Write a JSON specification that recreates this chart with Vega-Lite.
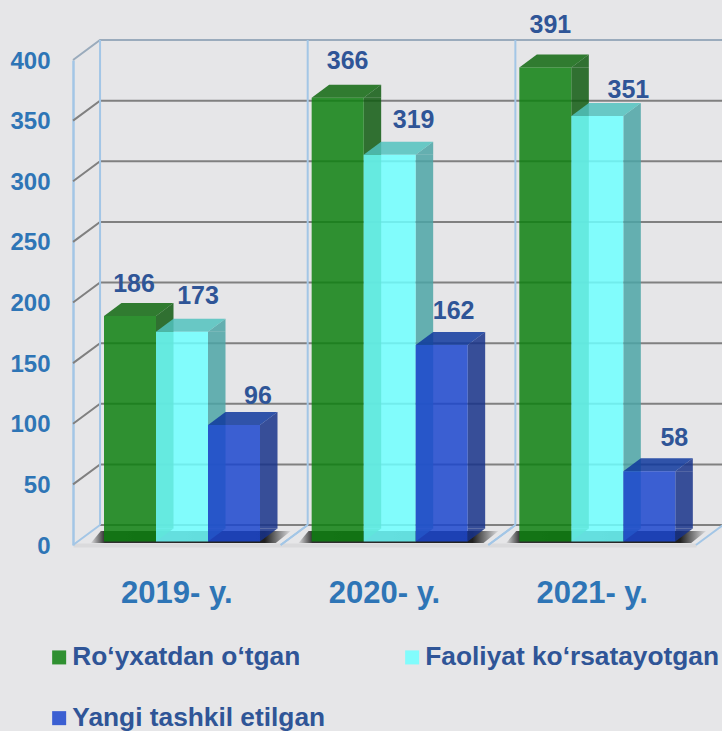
{
"$schema":"https://vega.github.io/schema/vega-lite/v6.json",
"width":623,"height":485,
"autosize":"none",
"padding":{"left":73,"top":60,"right":26,"bottom":186},
"background":"#e6e6e8",
"config":{"view":{"stroke":null},"font":"Liberation Sans"},
"datasets":{
"rows":[
{"year":"2019- y.","series":"Ro‘yxatdan o‘tgan","value":186},
{"year":"2019- y.","series":"Faoliyat ko‘rsatayotgan","value":173},
{"year":"2019- y.","series":"Yangi tashkil etilgan","value":96},
{"year":"2020- y.","series":"Ro‘yxatdan o‘tgan","value":366},
{"year":"2020- y.","series":"Faoliyat ko‘rsatayotgan","value":319},
{"year":"2020- y.","series":"Yangi tashkil etilgan","value":162},
{"year":"2021- y.","series":"Ro‘yxatdan o‘tgan","value":391},
{"year":"2021- y.","series":"Faoliyat ko‘rsatayotgan","value":351},
{"year":"2021- y.","series":"Yangi tashkil etilgan","value":58}
],
"years":[{"year":"2019- y."},{"year":"2020- y."},{"year":"2021- y."}],
"ticks":[{"tick":0},{"tick":50},{"tick":100},{"tick":150},{"tick":200},{"tick":250},{"tick":300},{"tick":350},{"tick":400}]
},
"resolve":{"scale":{"color":"independent","xOffset":"independent"}},
"layer":[
{"data":{"name":"ticks"},
 "transform":[{"filter":"datum.tick==0"}],
 "mark":{"type":"point","shape":"M-76.8,-20L546,-20","size":4,"filled":false,"stroke":"#808080","strokeWidth":2,"opacity":1},
 "encoding":{"x":{"datum":"2019- y."},
   "y":{"field":"tick","type":"quantitative","scale":{"domain":[0,400],"nice":false},
   "axis":{"title":null,"values":[0,50,100,150,200,250,300,350,400],"grid":false,"ticks":false,"domainColor":"#a3c6e6","domainWidth":2.5,"labelColor":"#2e75b6","labelFont":"Liberation Sans","labelFontWeight":"bold","labelFontSize":24,"labelPadding":23,"labelOffset":1}}}},
{"data":{"name":"ticks"},
 "transform":[{"filter":"datum.tick>0 && datum.tick<400"}],
 "mark":{"type":"point","shape":"M-103.8,0L-76.8,-20L546,-20","size":4,"filled":false,"stroke":"#808080","strokeWidth":2,"opacity":1},
 "encoding":{"x":{"datum":"2019- y."},"y":{"field":"tick","type":"quantitative"}}},
{"data":{"name":"ticks"},
 "transform":[{"filter":"datum.tick==400"}],
 "mark":{"type":"point","shape":"M-103.8,0L-76.8,-20L546,-20","size":4,"filled":false,"stroke":"#9aabbc","strokeWidth":2,"opacity":1},
 "encoding":{"x":{"datum":"2019- y."},"y":{"field":"tick","type":"quantitative"}}},
{"data":{"name":"years"},
 "mark":{"type":"rule","stroke":"#a3c6e6","strokeWidth":2,"xOffset":-76.8,"yOffset":-20,"y2Offset":-20},
 "encoding":{"x":{"field":"year","type":"nominal","scale":{"type":"band","paddingInner":0,"paddingOuter":0},
   "axis":{"title":null,"ticks":false,"labelAngle":0,"labelAlign":"center","domainColor":"#dadadc","domainWidth":4,"labelColor":"#2e75b6","labelFont":"Liberation Sans","labelFontWeight":"bold","labelFontSize":31,"labelPadding":48}},
   "y":{"datum":0},"y2":{"datum":400}}},
{"data":{"name":"years"},
 "mark":{"type":"point","shape":"M-103.8,0L-76.8,-20M103.8,0L130.8,-20","size":4,"filled":false,"stroke":"#a3c6e6","strokeWidth":2,"opacity":1},
 "encoding":{"x":{"field":"year","type":"nominal"},"y":{"datum":0}}},
{"data":{"name":"years"},
 "mark":{"type":"point","shape":"M-86,-2L-76,-14L114,-14L99,-2Z","size":4,"filled":true,"opacity":1,
   "fill":{"gradient":"linear","x1":0,"x2":1,"y1":0,"y2":0,"stops":[{"offset":0,"color":"#dcdcde"},{"offset":0.07,"color":"#303030"},{"offset":0.87,"color":"#202020"},{"offset":1,"color":"#dcdcde"}]}},
 "encoding":{"x":{"field":"year","type":"nominal"},"y":{"datum":0}}},
{"data":{"name":"rows"},
 "mark":{"type":"bar","yOffset":-3.5,"y2Offset":-16.5,"opacity":0.85},
 "encoding":{"x":{"field":"year","type":"nominal"},
  "xOffset":{"field":"series","type":"nominal","scale":{"type":"band","domain":["Ro‘yxatdan o‘tgan","Faoliyat ko‘rsatayotgan","Yangi tashkil etilgan"],"range":[83,204.5],"paddingInner":0.6635,"paddingOuter":0}},
  "y":{"field":"value","type":"quantitative"},"y2":{"datum":0},
  "color":{"field":"series","type":"nominal","legend":null,"scale":{"domain":["Ro‘yxatdan o‘tgan","Faoliyat ko‘rsatayotgan","Yangi tashkil etilgan"],"range":["#0f5b10","#4ca4a6","#17328a"]}}}},
{"data":{"name":"rows"},
 "mark":{"type":"point","shape":"M26,0L43.5,-13L43.5,0Z","size":4,"filled":true,"opacity":0.85,"yOffset":-3.5},
 "encoding":{"x":{"field":"year","type":"nominal"},"xOffset":{"field":"series","type":"nominal","scale":{"type":"band","domain":["Ro‘yxatdan o‘tgan","Faoliyat ko‘rsatayotgan","Yangi tashkil etilgan"],"range":[31,187],"paddingInner":0,"paddingOuter":0}},
  "y":{"field":"value","type":"quantitative"},
  "color":{"field":"series","type":"nominal","legend":null,"scale":{"domain":["Ro‘yxatdan o‘tgan","Faoliyat ko‘rsatayotgan","Yangi tashkil etilgan"],"range":["#0f5b10","#4ca4a6","#17328a"]}}}},
{"data":{"name":"rows"},
 "mark":{"type":"point","shape":"M26,0L43.5,-13L26,-13Z","size":4,"filled":true,"opacity":0.85,"yOffset":-3.5},
 "encoding":{"x":{"field":"year","type":"nominal"},"xOffset":{"field":"series","type":"nominal","scale":{"type":"band","domain":["Ro‘yxatdan o‘tgan","Faoliyat ko‘rsatayotgan","Yangi tashkil etilgan"],"range":[31,187],"paddingInner":0,"paddingOuter":0}},
  "y":{"datum":0},
  "color":{"field":"series","type":"nominal","legend":null,"scale":{"domain":["Ro‘yxatdan o‘tgan","Faoliyat ko‘rsatayotgan","Yangi tashkil etilgan"],"range":["#0f5b10","#4ca4a6","#17328a"]}}}},
{"data":{"name":"rows"},
 "mark":{"type":"point","shape":"M-26,0L-8.5,-13L43.5,-13L26,0Z","size":4,"filled":true,"opacity":0.85,"yOffset":-3.5},
 "encoding":{"x":{"field":"year","type":"nominal"},"xOffset":{"field":"series","type":"nominal","scale":{"type":"band","domain":["Ro‘yxatdan o‘tgan","Faoliyat ko‘rsatayotgan","Yangi tashkil etilgan"],"range":[31,187],"paddingInner":0,"paddingOuter":0}},
  "y":{"field":"value","type":"quantitative"},
  "color":{"field":"series","type":"nominal","legend":null,"scale":{"domain":["Ro‘yxatdan o‘tgan","Faoliyat ko‘rsatayotgan","Yangi tashkil etilgan"],"range":["#0f670f","#51c2be","#0f389d"]}}}},
{"data":{"name":"rows"},
 "mark":{"type":"bar","yOffset":-3.5,"y2Offset":-3.5,"opacity":0.85},
 "encoding":{"x":{"field":"year","type":"nominal"},"xOffset":{"field":"series","type":"nominal","scale":{"type":"band","domain":["Ro‘yxatdan o‘tgan","Faoliyat ko‘rsatayotgan","Yangi tashkil etilgan"],"range":[31,187],"paddingInner":0,"paddingOuter":0}},
  "y":{"field":"value","type":"quantitative"},"y2":{"datum":0},
  "color":{"field":"series","type":"nominal","scale":{"domain":["Ro‘yxatdan o‘tgan","Faoliyat ko‘rsatayotgan","Yangi tashkil etilgan"],"range":["#0e8010","#6effff","#1c47ce"]},
   "legend":{"title":null,"orient":"none","legendX":-27,"legendY":584,"direction":"horizontal","columns":2,"symbolType":"square","symbolSize":196,"symbolStrokeWidth":0,"labelFont":"Liberation Sans","labelFontWeight":"bold","labelFontSize":26.3,"labelColor":"#2f5597","labelOffset":0,"columnPadding":73,"rowPadding":34,"padding":0,"labelLimit":400}}}},
{"data":{"name":"rows"},
 "encoding":{"x":{"field":"year","type":"nominal"},"xOffset":{"field":"series","type":"nominal","scale":{"type":"band","domain":["Ro‘yxatdan o‘tgan","Faoliyat ko‘rsatayotgan","Yangi tashkil etilgan"],"range":[31,187],"paddingInner":0,"paddingOuter":0}},
  "y":{"field":"value","type":"quantitative"},"text":{"field":"value","type":"quantitative"}},
 "layer":[
 {"transform":[{"filter":"datum.value==186"}],"mark":{"type":"text","dx":4,"dy":-35.5,"font":"Liberation Sans","fontWeight":"bold","fontSize":25,"fill":"#2f5597"}},
 {"transform":[{"filter":"datum.value==173"}],"mark":{"type":"text","dx":16,"dy":-39,"font":"Liberation Sans","fontWeight":"bold","fontSize":25,"fill":"#2f5597"}},
 {"transform":[{"filter":"datum.value==96"}],"mark":{"type":"text","dx":24,"dy":-33,"font":"Liberation Sans","fontWeight":"bold","fontSize":25,"fill":"#2f5597"}},
 {"transform":[{"filter":"datum.value==366"}],"mark":{"type":"text","dx":10,"dy":-40,"font":"Liberation Sans","fontWeight":"bold","fontSize":25,"fill":"#2f5597"}},
 {"transform":[{"filter":"datum.value==319"}],"mark":{"type":"text","dx":24,"dy":-38,"font":"Liberation Sans","fontWeight":"bold","fontSize":25,"fill":"#2f5597"}},
 {"transform":[{"filter":"datum.value==162"}],"mark":{"type":"text","dx":12,"dy":-38,"font":"Liberation Sans","fontWeight":"bold","fontSize":25,"fill":"#2f5597"}},
 {"transform":[{"filter":"datum.value==391"}],"mark":{"type":"text","dx":5,"dy":-46,"font":"Liberation Sans","fontWeight":"bold","fontSize":25,"fill":"#2f5597"}},
 {"transform":[{"filter":"datum.value==351"}],"mark":{"type":"text","dx":31,"dy":-29,"font":"Liberation Sans","fontWeight":"bold","fontSize":25,"fill":"#2f5597"}},
 {"transform":[{"filter":"datum.value==58"}],"mark":{"type":"text","dx":25,"dy":-37,"font":"Liberation Sans","fontWeight":"bold","fontSize":25,"fill":"#2f5597"}}
 ]}
]
}
